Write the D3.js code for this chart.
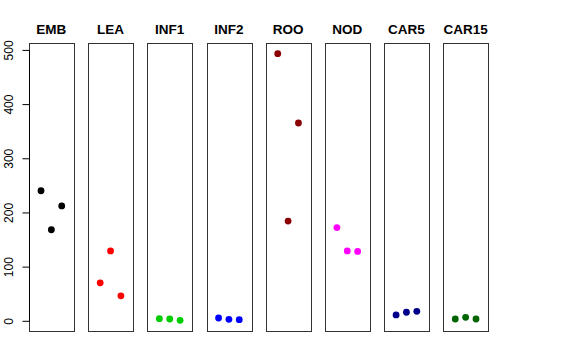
<!DOCTYPE html>
<html><head><meta charset="utf-8">
<script src="https://cdn.jsdelivr.net/npm/d3@7"></script>
<style>body{margin:0;background:#fff}svg{display:block}</style>
</head><body>
<svg id="c" width="576" height="360"></svg>
<script>
const categories = ["EMB","LEA","INF1","INF2","ROO","NOD","CAR5","CAR15"];
const colors = ["#000000","#FF0000","#00CD00","#0000FF","#8B0000","#FF00FF","#00008B","#006400"];
const replicates = [1,2,3];
const valEMB   = [241, 169, 213];
const valLEA   = [71, 130, 47];
const valINF1  = [4.9, 4.3, 1.8];
const valINF2  = [6.1, 3.6, 3.0];
const valROO   = [494, 185, 366];
const valNOD   = [173, 130, 129];
const valCAR5  = [11.7, 16.7, 18.5];
const valCAR15 = [4.3, 7.4, 4.3];
const yTicks = [0,100,200,300,400,500];
const series = [valEMB,valLEA,valINF1,valINF2,valROO,valNOD,valCAR5,valCAR15];

(function(){
const svg = d3.select("#c");
const pTop = 43, pBottom = 331;
const allVals = series.flat();
const mn = d3.min(allVals), mx = d3.max(allVals), pad = (mx-mn)*0.04;
const y = d3.scaleLinear().domain([mn-pad, mx+pad]).range([pBottom, pTop]);
const band = d3.scaleBand().domain(categories).range([29, 488]).paddingInner(0.244).paddingOuter(0);

categories.forEach((cat,i)=>{
  const x0 = band(cat), w = band.bandwidth();
  const g = svg.append("g");
  const x = d3.scaleLinear().domain([2-2.16, 2+2.16]).range([x0, x0+w]);
  g.append("rect").attr("x", Math.round(x0)+0.5).attr("y", pTop+0.5)
    .attr("width", Math.round(w)).attr("height", pBottom-pTop)
    .attr("fill","none").attr("stroke","#333").attr("stroke-width",1);
  g.append("text").attr("x", x0+w/2).attr("y", 34).attr("text-anchor","middle")
    .attr("font-family","Liberation Sans, Arial, sans-serif").attr("font-weight","bold")
    .attr("font-size",13.5).text(cat);
  g.selectAll("circle").data(series[i]).enter().append("circle")
    .attr("cx",(d,j)=>x(replicates[j])).attr("cy",d=>y(d)).attr("r",3.4)
    .attr("fill",colors[i]);
});

const ax = svg.append("g").attr("transform",`translate(${Math.round(band(categories[0]))+0.5},0)`);
ax.append("line").attr("x1",0).attr("x2",0).attr("y1",y(0)).attr("y2",y(500)).attr("stroke","#000");
yTicks.forEach(t=>{
  ax.append("line").attr("x1",-7).attr("x2",0).attr("y1",y(t)).attr("y2",y(t)).attr("stroke","#000");
  ax.append("text").attr("transform",`translate(-16.5,${y(t)}) rotate(-90)`)
    .attr("text-anchor","middle").attr("font-family","Liberation Sans, Arial, sans-serif")
    .attr("font-size",12).text(t);
});
})();
</script>
</body></html>
